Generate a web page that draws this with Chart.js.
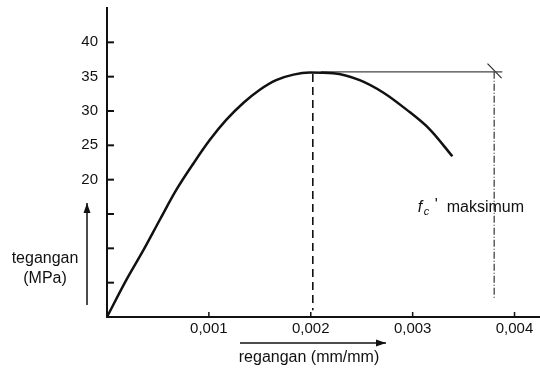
<!DOCTYPE html>
<html>
<head>
<meta charset="utf-8">
<script src="https://cdn.jsdelivr.net/npm/chart.js@4/dist/chart.umd.min.js"></script>
<style>
  html, body { margin: 0; padding: 0; background: #fff; }
  #wrap { width: 540px; height: 369px; position: relative; }
</style>
</head>
<body>
<div id="wrap"><canvas id="chart"></canvas></div>
<script>
// stress-strain curve of concrete (tegangan vs regangan)
const strain = [0, 0.00019, 0.00036, 0.00052, 0.00068, 0.00085, 0.00101, 0.00117, 0.00134,
  0.0015, 0.00166, 0.00183, 0.00199, 0.00222, 0.00248, 0.00271, 0.00294, 0.00317, 0.00339];
const stress = [0, 5.4, 9.8, 14.2, 18.5, 22.4, 25.8, 28.7, 31.2,
  33.1, 34.5, 35.3, 35.6, 35.5, 34.5, 32.7, 30.2, 27.3, 23.4];

const fcMax = 35.7;            // horizontal line level
const peakStrain = 0.00202;    // dashed vertical
const ultStrain = 0.0038;      // dash-dot vertical
const hLineEnd = 0.00388;

const xTicks = [0.001, 0.002, 0.003, 0.004];
const xTickLabels = ['0,001', '0,002', '0,003', '0,004'];
const yTickMarks = [5, 10, 15, 20, 25, 30, 35, 40];
const yTickLabels = [20, 25, 30, 35, 40];

const yTitle = ['tegangan', '(MPa)'];
const xTitle = 'regangan (mm/mm)';
const noteLabel = 'maksimum';

const FONT = '"Liberation Sans", Arial, sans-serif';
const INK = '#111';

const pts = (xs, ys) => xs.map((x, i) => ({ x, y: ys[i] }));

function arrow(ctx, x1, y1, x2, y2){
  const a = Math.atan2(y2 - y1, x2 - x1);
  ctx.beginPath();
  ctx.moveTo(x1, y1);
  ctx.lineTo(x2, y2);
  ctx.stroke();
  ctx.beginPath();
  ctx.moveTo(x2, y2);
  ctx.lineTo(x2 - 10 * Math.cos(a) + 3.5 * Math.sin(a), y2 - 10 * Math.sin(a) - 3.5 * Math.cos(a));
  ctx.lineTo(x2 - 10 * Math.cos(a) - 3.5 * Math.sin(a), y2 - 10 * Math.sin(a) + 3.5 * Math.cos(a));
  ctx.closePath();
  ctx.fill();
}

// inner tick marks, axis titles with arrows and the f_c' note
const decor = {
  id: 'decor',
  afterDraw(chart){
    const ctx = chart.ctx;
    const xs = chart.scales.x, ys = chart.scales.y;
    const x0 = xs.getPixelForValue(0), y0 = ys.getPixelForValue(0);
    ctx.save();
    ctx.strokeStyle = INK;
    ctx.fillStyle = INK;
    ctx.lineWidth = 2;
    yTickMarks.forEach(v => {
      const y = ys.getPixelForValue(v);
      ctx.beginPath(); ctx.moveTo(x0, y); ctx.lineTo(x0 + 7, y); ctx.stroke();
    });
    ctx.lineWidth = 1.5;
    xTicks.forEach(v => {
      const x = xs.getPixelForValue(v);
      ctx.beginPath(); ctx.moveTo(x, y0); ctx.lineTo(x, y0 - 5); ctx.stroke();
    });

    // y title + arrow
    ctx.font = '16px ' + FONT;
    ctx.textAlign = 'center';
    ctx.textBaseline = 'middle';
    ctx.fillText(yTitle[0], 45, 259);
    ctx.fillText(yTitle[1], 45, 279);
    ctx.lineWidth = 1.5;
    arrow(ctx, 87, 305, 87, 203);

    // x title + arrow
    ctx.fillText(xTitle, 309, 358);
    arrow(ctx, 240, 343, 386, 343);

    // f_c' maksimum
    const nx = xs.getPixelForValue(0.00305), ny = ys.getPixelForValue(16);
    ctx.textAlign = 'left';
    ctx.font = 'italic 16px ' + FONT;
    ctx.fillText('f', nx, ny);
    ctx.font = 'italic 11px ' + FONT;
    ctx.fillText('c', nx + 6, ny + 5);
    ctx.font = '16px ' + FONT;
    ctx.fillText('\'', nx + 17, ny - 2);
    ctx.fillText(noteLabel, nx + 29, ny);
    ctx.restore();
  }
};

new Chart(document.getElementById('chart'), {
  type: 'line',
  data: {
    datasets: [
      {
        data: pts(strain, stress),
        borderColor: INK,
        borderWidth: 2.5,
        cubicInterpolationMode: 'monotone',
        pointRadius: 0
      },
      {
        data: pts([0.0021, hLineEnd], [fcMax, fcMax]),
        borderColor: '#444',
        borderWidth: 1.3,
        pointRadius: 0
      },
      {
        data: pts([peakStrain, peakStrain], [35.4, 1]),
        borderColor: INK,
        borderWidth: 1.6,
        borderDash: [8, 5],
        pointRadius: 0
      },
      {
        data: pts([ultStrain, ultStrain], [fcMax, 2.5]),
        borderColor: '#222',
        borderWidth: 1.1,
        borderDash: [7, 2, 1, 2],
        pointRadius: 0
      },
      {
        data: pts([0.003735, 0.003873], [36.9, 34.8]),
        borderColor: '#222',
        borderWidth: 1.1,
        pointRadius: 0
      }
    ]
  },
  options: {
    responsive: true,
    maintainAspectRatio: false,
    animation: false,
    layout: { padding: { top: 8, left: 0, right: 0, bottom: 0 } },
    plugins: { legend: { display: false }, tooltip: { enabled: false } },
    scales: {
      x: {
        type: 'linear',
        min: 0,
        max: 0.00425,
        afterFit: s => { s.height = 52; s.paddingLeft = 0; s.paddingRight = 0; },
        afterBuildTicks: s => { s.ticks = xTicks.map(v => ({ value: v })); },
        grid: { display: false, drawTicks: false },
        border: { display: true, color: INK, width: 2 },
        ticks: {
          padding: 3,
          color: INK,
          font: { family: FONT, size: 15 },
          maxRotation: 0,
          callback: v => xTickLabels[xTicks.indexOf(v)] ?? ''
        }
      },
      y: {
        type: 'linear',
        min: 0,
        max: 45,
        afterFit: s => { s.width = 107; s.paddingTop = 0; s.paddingBottom = 0; },
        afterBuildTicks: s => { s.ticks = yTickLabels.map(v => ({ value: v })); },
        grid: { display: false, drawTicks: false },
        border: { display: true, color: INK, width: 2 },
        ticks: {
          padding: 9,
          color: INK,
          font: { family: FONT, size: 15 },
          callback: v => String(v)
        }
      }
    }
  },
  plugins: [decor]
});
</script>
</body>
</html>
